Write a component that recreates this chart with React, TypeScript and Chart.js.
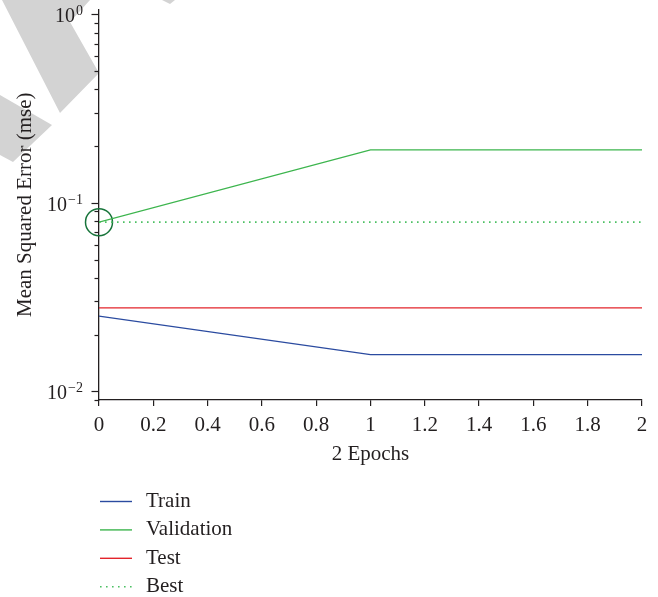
import React, { useEffect, useRef } from 'react';
import { Chart, registerables } from 'chart.js';

Chart.register(...registerables);

// ---- data ----
const epochs = [0, 1, 2];
const trainMse = [0.02505, 0.01563, 0.01563];
const validationMse = [0.079, 0.191, 0.191];
const testMse = [0.0277, 0.0277, 0.0277];
const bestEpoch = 0;
const bestMse = 0.079;
const xTickStep = 0.2;
const yMajorTicks = [0.01, 0.1, 1];
const yMajorExponents = ['\u22122', '\u22121', '0'];
const seriesLabels = ['Train', 'Validation', 'Test', 'Best'];
const xTitle = '2 Epochs';
const yTitle = 'Mean Squared Error (mse)';

const FONT = '"Liberation Serif", "Times New Roman", serif';
const INK = '#231f20';
const FS = 21;

const watermarkPlugin = {
  id: 'watermark',
  beforeDraw(chart: any) {
    const ctx = chart.ctx;
    ctx.save();
    ctx.fillStyle = '#d3d3d3';
    const polys = [
      [[2, 0], [90, 0], [70, 22], [99, 73], [60, 113]],
      [[0, 95], [52, 125], [13, 162], [0, 155]],
      [[162, 0], [175, 0], [170, 4]],
    ];
    for (const p of polys) {
      ctx.beginPath();
      ctx.moveTo(p[0][0], p[0][1]);
      for (let i = 1; i < p.length; i++) ctx.lineTo(p[i][0], p[i][1]);
      ctx.closePath();
      ctx.fill();
    }
    ctx.restore();
  },
};

const yAxisPlugin = {
  id: 'yAxisDecor',
  afterDraw(chart: any) {
    const ctx = chart.ctx;
    const y = chart.scales.y;
    const left = chart.chartArea.left;
    ctx.save();
    ctx.strokeStyle = INK;
    ctx.lineWidth = 1.2;
    for (let e = -3; e <= 0; e++) {
      for (let m = 1; m <= 9; m++) {
        const v = m * Math.pow(10, e);
        if (v < y.min || v > y.max) continue;
        const py = Math.round(y.getPixelForValue(v)) + 0.5;
        const len = m === 1 ? 7.5 : 4.5;
        ctx.beginPath();
        ctx.moveTo(left - len, py);
        ctx.lineTo(left, py);
        ctx.stroke();
      }
    }
    ctx.fillStyle = INK;
    ctx.textBaseline = 'alphabetic';
    yMajorTicks.forEach((v, i) => {
      const py = y.getPixelForValue(v);
      const sup = yMajorExponents[i];
      ctx.font = `14px ${FONT}`;
      ctx.textAlign = 'right';
      const supW = ctx.measureText(sup).width;
      const right = left - 16;
      ctx.fillText(sup, right, py + 1);
      ctx.font = `20px ${FONT}`;
      ctx.fillText('10', right - supW - 1, py + 8);
    });
    ctx.restore();
  },
};

const legendPlugin = {
  id: 'customLegend',
  afterDraw(chart: any) {
    const ctx = chart.ctx;
    const x0 = chart.chartArea.left + 1;
    const rowTop = chart.chartArea.bottom + 101.5;
    const rowH = 28.4;
    ctx.save();
    ctx.font = `${FS}px ${FONT}`;
    ctx.textBaseline = 'middle';
    ctx.textAlign = 'left';
    let row = 0;
    chart.data.datasets.forEach((ds: any) => {
      if (!seriesLabels.includes(ds.label)) return;
      const py = rowTop + row * rowH;
      ctx.strokeStyle = ds.borderColor;
      ctx.lineWidth = ds.borderWidth;
      ctx.setLineDash(ds.borderDash || []);
      ctx.beginPath();
      ctx.moveTo(x0, py);
      ctx.lineTo(x0 + 32, py);
      ctx.stroke();
      ctx.setLineDash([]);
      ctx.fillStyle = INK;
      ctx.fillText(ds.label, x0 + 46, py);
      row++;
    });
    ctx.restore();
  },
};

function toPoints(xs: number[], ys: number[]) {
  return xs.map((x, i) => ({ x, y: ys[i] }));
}

export default function App() {
  const ref = useRef<HTMLCanvasElement>(null);
  useEffect(() => {
    if (!ref.current) return;
    const lastEpoch = epochs[epochs.length - 1];
    const chart = new Chart(ref.current, {
      type: 'line',
      data: {
        datasets: [
          {
            label: seriesLabels[0],
            data: toPoints(epochs, trainMse),
            borderColor: '#2b4ba0',
            borderWidth: 1.4,
            pointRadius: 0,
          },
          {
            label: seriesLabels[1],
            data: toPoints(epochs, validationMse),
            borderColor: '#3db54e',
            borderWidth: 1.4,
            pointRadius: 0,
          },
          {
            label: seriesLabels[2],
            data: toPoints(epochs, testMse),
            borderColor: '#e3242b',
            borderWidth: 1.4,
            pointRadius: 0,
          },
          {
            label: seriesLabels[3],
            data: [
              { x: epochs[0], y: bestMse },
              { x: lastEpoch, y: bestMse },
            ],
            borderColor: '#4cc063',
            borderWidth: 1.6,
            borderDash: [1.6, 4.4],
            pointRadius: 0,
          },
          {
            label: 'bestPoint',
            data: [{ x: bestEpoch, y: bestMse }],
            showLine: false,
            pointRadius: 13.5,
            pointStyle: 'circle',
            pointBorderColor: '#17743a',
            pointBackgroundColor: 'rgba(0,0,0,0)',
            pointBorderWidth: 1.5,
            clip: false,
          } as any,
        ],
      },
      options: {
        animation: false,
        responsive: false,
        events: [],
        layout: { autoPadding: false, padding: { left: 0, top: 9.5, right: 16, bottom: 127 } },
        plugins: {
          legend: { display: false },
          tooltip: { enabled: false },
        },
        scales: {
          x: {
            type: 'linear',
            min: 0,
            max: lastEpoch,
            afterFit: (s: any) => {
              s.height = 70;
            },
            ticks: {
              stepSize: xTickStep,
              color: INK,
              font: { family: FONT, size: FS },
              padding: 7,
              maxRotation: 0,
              autoSkip: false,
              callback: (v: any) => String(Math.round(Number(v) * 10) / 10),
            },
            grid: {
              display: true,
              drawOnChartArea: false,
              drawTicks: true,
              tickLength: 6,
              color: INK,
              lineWidth: 1.2,
            },
            border: { display: true, color: INK, width: 1.3 },
            title: {
              display: true,
              text: xTitle,
              color: INK,
              font: { family: FONT, size: FS },
              padding: { top: 0, bottom: 2.5 },
            },
          },
          y: {
            type: 'logarithmic',
            min: 0.00898,
            max: 1.063,
            afterFit: (s: any) => {
              s.width = 99;
            },
            ticks: { display: false },
            grid: { display: false },
            border: { display: true, color: INK, width: 1.3 },
            title: {
              display: true,
              text: yTitle,
              color: INK,
              font: { family: FONT, size: FS },
              padding: { top: 12.5, bottom: 0 },
            },
          },
        },
      } as any,
      plugins: [watermarkPlugin, yAxisPlugin, legendPlugin],
    });
    return () => chart.destroy();
  }, []);
  return (
    <div style={{ position: 'absolute', left: 0, top: 0, width: 658, height: 597, background: '#fff' }}>
      <canvas ref={ref} width={658} height={597} style={{ display: 'block' }} />
    </div>
  );
}
